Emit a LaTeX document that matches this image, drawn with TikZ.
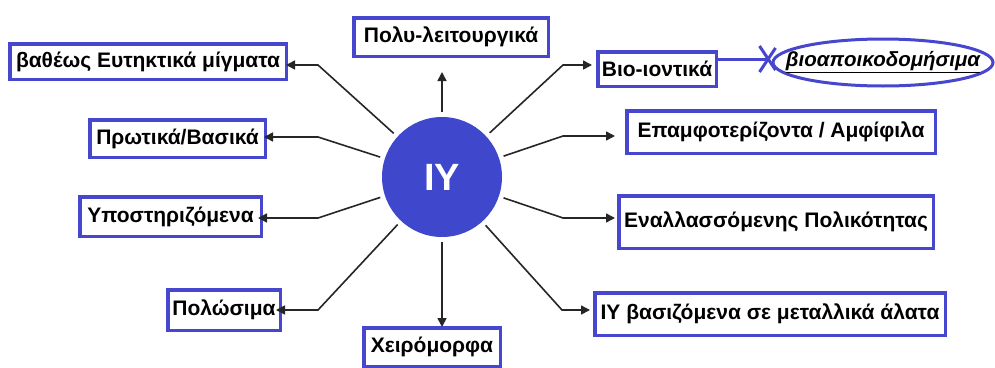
\documentclass[tikz,border=0pt]{standalone}
\usepackage{fontspec}
\setmainfont{Liberation Sans}
\usetikzlibrary{arrows.meta,shapes.geometric}
\definecolor{iyblue}{HTML}{3F48CC}
\definecolor{boxblue}{HTML}{4646CF}
\begin{document}
\begin{tikzpicture}[x=1pt,y=-1pt,
  box/.style={draw=boxblue,line width=3.5pt,fill=white,inner sep=0pt,font=\fontsize{21}{23}\selectfont\bfseries,text=black},
  arr/.style={line width=1.6pt,draw=black!85,-{Triangle[length=9pt,width=9pt]}},
]
\useasboundingbox[fill=white] (0,0) rectangle (995,367);
\node[circle,fill=iyblue,minimum size=120pt,inner sep=0pt,outer sep=5pt,text=white,font=\fontsize{38}{40}\selectfont\bfseries] (c) at (442,177) {ΙΥ};

\node[box,minimum width=276.5pt,minimum height=35.5pt] (b1) at (148,61.5) {βαθέως Ευτηκτικά μίγματα};
\node[box,minimum width=194.5pt,minimum height=38.5pt] (b2) at (451,37) {Πολυ-λειτουργικά};
\node[box,minimum width=175.5pt,minimum height=37.5pt] (b3) at (177.5,138.5) {Πρωτικά/Βασικά};
\node[box,minimum width=181.5pt,minimum height=39.5pt] (b4) at (170.5,216.5) {Υποστηριζόμενα};
\node[box,minimum width=112.5pt,minimum height=40.5pt] (b5) at (224,310) {Πολώσιμα};
\node[box,minimum width=136.5pt,minimum height=38.5pt] (b6) at (432,347) {Χειρόμορφα};
\node[box,minimum width=118.5pt,minimum height=34.5pt] (b7) at (657,69) {Βιο-ιοντικά};
\node[box,minimum width=308.5pt,minimum height=42.5pt] (b8) at (781,132) {Επαμφοτερίζοντα / Αμφίφιλα};
\node[box,minimum width=314.5pt,minimum height=52.5pt] (b9) at (776,222) {Εναλλασσόμενης Πολικότητας};
\node[box,minimum width=350.5pt,minimum height=42.5pt] (b10) at (770,314) {ΙΥ βασιζόμενα σε μεταλλικά άλατα};

\node[ellipse,draw=boxblue,line width=3pt,inner sep=0pt,minimum width=220pt,minimum height=47pt] (e) at (883,62.5) {};
\node[inner sep=0pt,font=\fontsize{20.5}{22}\selectfont\bfseries\itshape] (et) at (e.center) {\underline{βιοαποικοδομήσιμα}};

\coordinate (k1) at (318,65);
\coordinate (k3) at (318,137);
\coordinate (k4) at (318,218);
\coordinate (k5) at (318,310);
\coordinate (k7) at (563,65);
\coordinate (k8) at (563,136);
\coordinate (k9) at (563,218);
\coordinate (k10) at (562,310);

\draw[arr,shorten >=-2pt] (c) -- (k1) -- (k1 -| b1.east);
\draw[arr,shorten >=-3pt] (c) -- (k3) -- (k3 -| b3.east);
\draw[arr,shorten >=-5pt] (c) -- (k4) -- (k4 -| b4.east);
\draw[arr,shorten >=-6pt] (c) -- (k5) -- (k5 -| b5.east);
\draw[arr,shorten >=14pt] (c) -- (c |- b2.south);
\draw[arr,shorten >=-1pt] (c) -- (c |- b6.north);
\draw[arr,shorten >=4pt] (c) -- (k7) -- (k7 -| b7.west);
\draw[arr,shorten >=10pt] (c) -- (k8) -- (k8 -| b8.west);
\draw[arr,shorten >=2pt] (c) -- (k9) -- (k9 -| b9.west);
\draw[arr,shorten >=3pt] (c) -- (k10) -- (k10 -| b10.west);

\coordinate (x0) at ([xshift=-3pt,yshift=3.5pt]e.west);
\draw[boxblue,line width=3pt] (b7.east |- x0) -- (x0);
\draw[boxblue,line width=3pt] ([shift={(-9pt,-13pt)}]x0) -- ([shift={(7pt,11pt)}]x0);
\draw[boxblue,line width=3pt] ([shift={(-9pt,13pt)}]x0) -- ([shift={(7pt,-11pt)}]x0);
\end{tikzpicture}
\end{document}
